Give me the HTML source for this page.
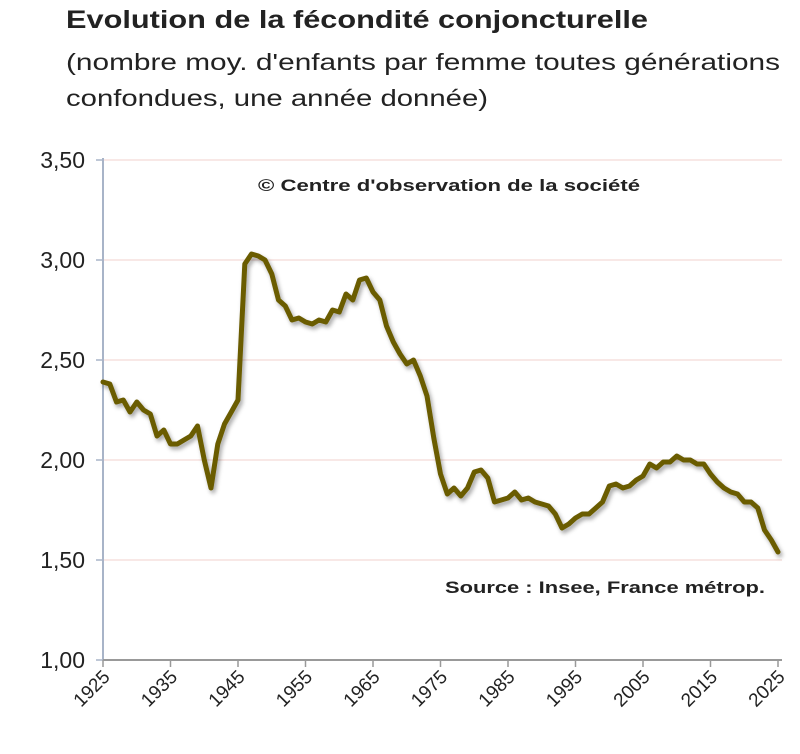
<!DOCTYPE html>
<html><head><meta charset="utf-8"><style>
body{margin:0;background:#fff;width:800px;height:749px;overflow:hidden;font-family:"Liberation Sans",sans-serif}
</style></head><body>
<svg width="800" height="749" xmlns="http://www.w3.org/2000/svg" font-family="Liberation Sans, sans-serif">
<defs><filter id="sh" x="-5%" y="-5%" width="110%" height="110%"><feDropShadow dx="2" dy="3" stdDeviation="2" flood-color="#000" flood-opacity="0.35"/></filter></defs>
<text x="66" y="28" font-size="25" font-weight="bold" fill="#222" textLength="582" lengthAdjust="spacingAndGlyphs">Evolution de la fécondité conjoncturelle</text>
<text x="66" y="70" font-size="23" fill="#222" textLength="714" lengthAdjust="spacingAndGlyphs">(nombre moy. d'enfants par femme toutes générations</text>
<text x="66" y="106" font-size="23" fill="#222" textLength="422" lengthAdjust="spacingAndGlyphs">confondues, une année donnée)</text>
<g stroke="#f0d0cc" stroke-width="1">
<line x1="103" y1="160" x2="782" y2="160"/><line x1="103" y1="260" x2="782" y2="260"/><line x1="103" y1="360" x2="782" y2="360"/><line x1="103" y1="460" x2="782" y2="460"/><line x1="103" y1="560" x2="782" y2="560"/>
</g>
<line x1="103" y1="158" x2="103" y2="660" stroke="#a8b4c8" stroke-width="2"/>
<line x1="103" y1="660" x2="782" y2="660" stroke="#999" stroke-width="2"/>
<g stroke="#a8b4c8" stroke-width="1.5" id="yt"></g>
<g font-size="23" fill="#222" text-anchor="end">
<text x="85" y="168">3,50</text><text x="85" y="268">3,00</text><text x="85" y="368">2,50</text><text x="85" y="468">2,00</text><text x="85" y="568">1,50</text><text x="85" y="668">1,00</text>
</g>
<g id="xt"></g>
<text x="258" y="191" font-size="17" font-weight="bold" fill="#222" textLength="382" lengthAdjust="spacingAndGlyphs">© Centre d'observation de la société</text>
<text x="445" y="593" font-size="17" font-weight="bold" fill="#222" textLength="320" lengthAdjust="spacingAndGlyphs">Source : Insee, France métrop.</text>
<polyline id="ln" fill="none" stroke="#6b5c00" stroke-width="5" stroke-linejoin="round" stroke-linecap="round" filter="url(#sh)"/>
</svg>
<script>
var d=[2.39,2.38,2.29,2.30,2.24,2.29,2.25,2.23,2.12,2.15,2.08,2.08,2.10,2.12,2.17,2.00,1.86,2.08,2.18,2.24,2.30,2.98,3.03,3.02,3.00,2.93,2.80,2.77,2.70,2.71,2.69,2.68,2.70,2.69,2.75,2.74,2.83,2.80,2.90,2.91,2.84,2.80,2.67,2.59,2.53,2.48,2.50,2.42,2.32,2.11,1.93,1.83,1.86,1.82,1.86,1.94,1.95,1.91,1.79,1.80,1.81,1.84,1.80,1.81,1.79,1.78,1.77,1.73,1.66,1.68,1.71,1.73,1.73,1.76,1.79,1.87,1.88,1.86,1.87,1.90,1.92,1.98,1.96,1.99,1.99,2.02,2.00,2.00,1.98,1.98,1.93,1.89,1.86,1.84,1.83,1.79,1.79,1.76,1.65,1.60,1.54];
var p=d.map(function(v,i){return (103+i*6.75).toFixed(1)+","+(660-(v-1)*200).toFixed(1)}).join(" ");
document.getElementById("ln").setAttribute("points",p);
var xt=document.getElementById("xt"),h="";
for(var k=0;k<=10;k++){var x=103+k*67.5;h+='<line x1="'+x+'" y1="660" x2="'+x+'" y2="667" stroke="#999" stroke-width="1.5"/>';
h+='<text transform="translate('+(x+8)+',678) rotate(-45)" font-size="19" fill="#222" text-anchor="end">'+(1925+k*10)+'</text>';}
xt.innerHTML=h;
var yt=document.getElementById("yt"),g="";for(var j=0;j<6;j++){var y=160+j*100;g+='<line x1="96" y1="'+y+'" x2="103" y2="'+y+'"/>';}yt.innerHTML=g;
</script>
</body></html>
